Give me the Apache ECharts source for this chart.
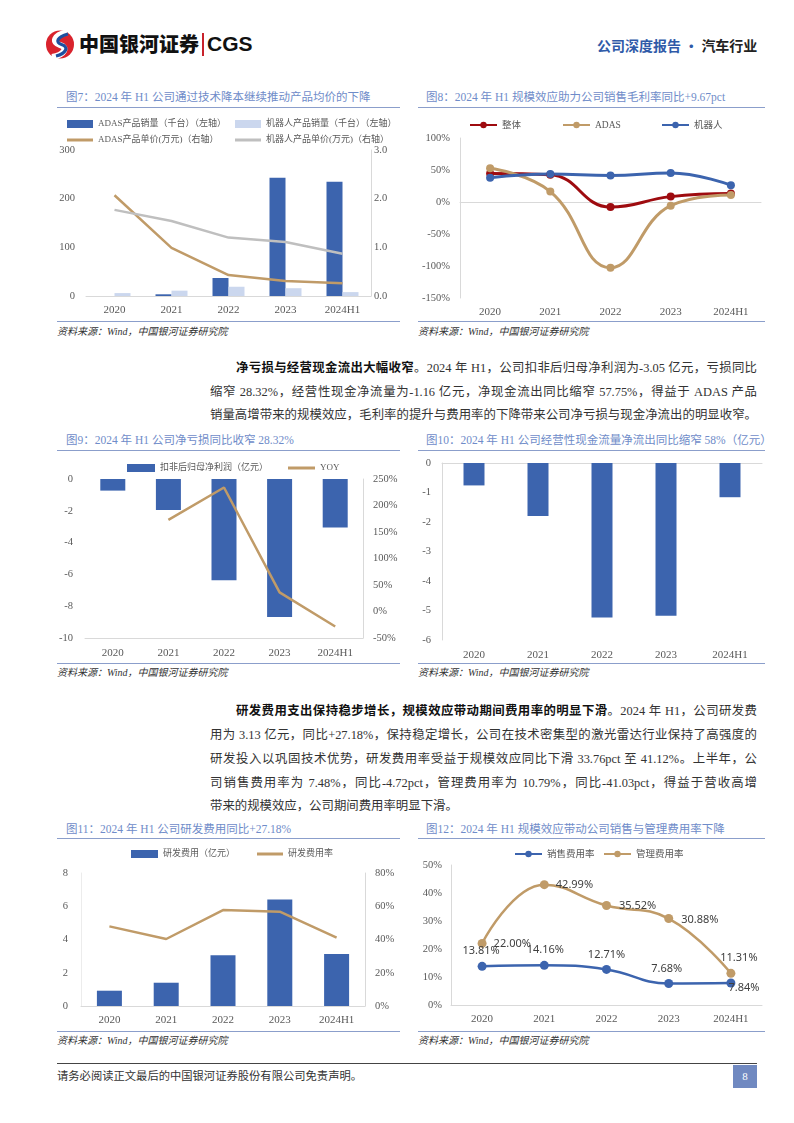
<!DOCTYPE html>
<html><head><meta charset="utf-8">
<script src="https://cdn.jsdelivr.net/npm/echarts@6/dist/echarts.min.js"></script>
<style>
body{margin:0;background:#fff;}
#page{position:relative;width:794px;height:1123px;overflow:hidden;background:#fff;font-family:"Liberation Serif","Noto Sans CJK SC",serif;}
.title{position:absolute;font-size:11.5px;color:#6f8cc9;white-space:nowrap;line-height:14px;height:14px;}
.hl{position:absolute;height:1px;background:#8b9ecb;}
.src{position:absolute;font-size:10px;font-style:italic;color:#333;white-space:nowrap;line-height:12px;}
.tl{position:absolute;font-size:12.4px;line-height:16px;height:16px;color:#333;text-align:justify;text-align-last:justify;white-space:nowrap;}
.b{font-weight:bold;color:#111;}
.chart{position:absolute;}
</style></head><body><div id="page">

<!-- header -->
<svg style="position:absolute;left:44px;top:29px" width="32" height="31" viewBox="0 0 32 31">
  <circle cx="16" cy="15.5" r="14" fill="#d9232d"/>
  <path d="M23 3.5 C 9 6, 8 14, 16 16 C 24 18, 21 26, 8 28" stroke="#fff" stroke-width="6" fill="none"/>
  <path d="M24 5 C 13 8, 11 13.5, 17.5 15.5 C 25.5 18, 22 24.5, 12 27" stroke="#1d4f9f" stroke-width="3.2" fill="none"/>
</svg>
<div style="position:absolute;left:79px;top:30px;font-family:'Noto Sans CJK SC';font-weight:900;font-size:20px;line-height:28px;color:#111;white-space:nowrap;">中国银河证券</div>
<div style="position:absolute;left:202px;top:33px;width:2px;height:23px;background:#c8222b;"></div>
<div style="position:absolute;left:207px;top:30px;font-family:'Liberation Sans';font-weight:bold;font-size:21px;line-height:28px;color:#111;white-space:nowrap;">CGS</div>
<div style="position:absolute;left:597px;top:36px;font-family:'Noto Sans CJK SC';font-weight:bold;font-size:14px;line-height:18px;white-space:nowrap;"><span style="color:#2f5aa8">公司深度报告 ·</span> <span style="color:#222">汽车行业</span></div>

<!-- figure 7/8 titles -->
<div class="title" style="left:66px;top:90px;">图7：2024 年 H1 公司通过技术降本继续推动产品均价的下降</div>
<div class="hl" style="left:57px;top:107px;width:343px;"></div>
<div class="title" style="left:426px;top:90px;">图8：2024 年 H1 规模效应助力公司销售毛利率同比+9.67pct</div>
<div class="hl" style="left:418px;top:107px;width:347px;"></div>
<div id="c7" class="chart" style="left:50px;top:108px;width:355px;height:210px;"></div>
<div id="c8" class="chart" style="left:410px;top:108px;width:360px;height:210px;"></div>
<div class="hl" style="left:57px;top:321px;width:343px;"></div>
<div class="hl" style="left:418px;top:321px;width:347px;"></div>
<div class="src" style="left:57px;top:326px;">资料来源：Wind，中国银河证券研究院</div>
<div class="src" style="left:418px;top:326px;">资料来源：Wind，中国银河证券研究院</div>

<!-- paragraph 1 -->
<div class="tl" style="left:236px;width:521px;top:360px;"><span class="b">净亏损与经营现金流出大幅收窄</span>。2024 年 H1，公司扣非后归母净利润为-3.05 亿元，亏损同比</div>
<div class="tl" style="left:210px;width:547px;top:384px;">缩窄 28.32%，经营性现金净流量为-1.16 亿元，净现金流出同比缩窄 57.75%，得益于 ADAS 产品</div>
<div class="tl" style="left:210px;width:547px;top:407px;">销量高增带来的规模效应，毛利率的提升与费用率的下降带来公司净亏损与现金净流出的明显收窄。</div>

<!-- figure 9/10 -->
<div class="title" style="left:66px;top:433px;">图9：2024 年 H1 公司净亏损同比收窄 28.32%</div>
<div class="hl" style="left:57px;top:450px;width:343px;"></div>
<div class="title" style="left:426px;top:433px;">图10：2024 年 H1 公司经营性现金流量净流出同比缩窄 58%（亿元）</div>
<div class="hl" style="left:418px;top:450px;width:347px;"></div>
<div id="c9" class="chart" style="left:50px;top:452px;width:355px;height:210px;"></div>
<div id="c10" class="chart" style="left:410px;top:452px;width:360px;height:210px;"></div>
<div class="hl" style="left:57px;top:663px;width:343px;"></div>
<div class="hl" style="left:418px;top:663px;width:347px;"></div>
<div class="src" style="left:57px;top:667px;">资料来源：Wind，中国银河证券研究院</div>
<div class="src" style="left:418px;top:667px;">资料来源：Wind，中国银河证券研究院</div>

<!-- paragraph 2 -->
<div class="tl" style="left:236px;width:521px;top:703px;"><span class="b">研发费用支出保持稳步增长，规模效应带动期间费用率的明显下滑</span>。2024 年 H1，公司研发费</div>
<div class="tl" style="left:210px;width:547px;top:727px;">用为 3.13 亿元，同比+27.18%，保持稳定增长，公司在技术密集型的激光雷达行业保持了高强度的</div>
<div class="tl" style="left:210px;width:547px;top:751px;">研发投入以巩固技术优势，研发费用率受益于规模效应同比下滑 33.76pct 至 41.12%。上半年，公</div>
<div class="tl" style="left:210px;width:547px;top:775px;">司销售费用率为 7.48%，同比-4.72pct，管理费用率为 10.79%，同比-41.03pct，得益于营收高增</div>
<div class="tl" style="left:210px;width:547px;top:798px;text-align:left;text-align-last:left;">带来的规模效应，公司期间费用率明显下滑。</div>

<!-- figure 11/12 -->
<div class="title" style="left:66px;top:822px;">图11：2024 年 H1 公司研发费用同比+27.18%</div>
<div class="hl" style="left:57px;top:838px;width:343px;"></div>
<div class="title" style="left:426px;top:822px;">图12：2024 年 H1 规模效应带动公司销售与管理费用率下降</div>
<div class="hl" style="left:418px;top:838px;width:347px;"></div>
<div id="c11" class="chart" style="left:50px;top:840px;width:355px;height:190px;"></div>
<div id="c12" class="chart" style="left:410px;top:840px;width:360px;height:190px;"></div>
<div class="hl" style="left:57px;top:1031px;width:343px;"></div>
<div class="hl" style="left:418px;top:1031px;width:347px;"></div>
<div class="src" style="left:57px;top:1035px;">资料来源：Wind，中国银河证券研究院</div>
<div class="src" style="left:418px;top:1035px;">资料来源：Wind，中国银河证券研究院</div>

<!-- footer -->
<div style="position:absolute;left:57px;top:1063px;width:700px;height:1px;background:#444;"></div>
<div style="position:absolute;left:57px;top:1069px;font-size:11.3px;line-height:14px;color:#333;white-space:nowrap;">请务必阅读正文最后的中国银河证券股份有限公司免责声明。</div>
<div style="position:absolute;left:733px;top:1065px;width:24px;height:23px;background:#7089c1;color:#fff;font-size:11px;line-height:23px;text-align:center;">8</div>

</div>
<script>
// ---------- data ----------
const years = ['2020', '2021', '2022', '2023', '2024H1'];
// Fig 7
const adasSales = [0, 3.5, 37, 243, 235];
const robotSales = [6, 11, 19, 16, 8];
const adasPrice = [2.07, 0.99, 0.43, 0.31, 0.26];
const robotPrice = [1.77, 1.54, 1.20, 1.11, 0.87];
// Fig 8
const gmTotal = [44.7, 42.6, -7.9, 8.4, 13.2];
const gmAdas = [52.6, 16.3, -102.6, -5.8, 11.0];
const gmRobot = [37.9, 43.7, 41.6, 45.3, 26.3];
// Fig 9
const netProfit = [-0.73, -1.95, -6.37, -8.68, -3.05];
const netProfitYoy = [null, 173, 234, 36, -28.32];
// Fig 10
const opCashFlow = [-0.76, -1.80, -5.24, -5.18, -1.16];
// Fig 11
const rdExpense = [0.92, 1.40, 3.05, 6.41, 3.13];
const rdRate = [47.9, 40.3, 57.7, 56.7, 41.12];
// Fig 12
const salesRate = [13.81, 14.16, 12.71, 7.68, 7.84];
const mgmtRate = [22.00, 42.99, 35.52, 30.88, 11.31];

// ---------- styles ----------
const FONT = 'Liberation Serif, Noto Sans CJK SC, serif';
const BLUE = '#3c64ae', LIGHTBLUE = '#cbd7ee', TAN = '#c09b68', GRAY = '#bfbfbf', RED = '#9e0b0f';
const LC = '#d9d9d9';
const axLab = (extra) => Object.assign({color: '#595959', fontSize: 10.5, fontFamily: FONT}, extra || {});
const xLab = (m) => axLab({fontSize: 11, margin: m});

function leg(name, x, yc, icon, w, h, fs) {
  const o = {data: [name], left: x, top: yc - 7, padding: 0, itemWidth: w, itemHeight: h,
    itemGap: 0, selectedMode: false,
    textStyle: {fontSize: fs || 9, color: '#595959', fontFamily: FONT, lineHeight: 14}};
  if (icon) o.icon = icon;
  return o;
}
function mk(id, opt) {
  const c = echarts.init(document.getElementById(id), null, {renderer: 'canvas'});
  opt.animation = false;
  c.setOption(opt);
}

// ---------- Fig 7 ----------
mk('c7', {
  grid: {left: 36, top: 42, width: 285, height: 146},
  legend: [
    leg('ADAS产品销量（千台）（左轴）', 17, 16, 'rect', 26, 8),
    leg('机器人产品销量（千台）（左轴）', 185, 16, 'rect', 26, 8),
    leg('ADAS产品单价(万元)（右轴）', 17, 32, 'rect', 26, 3),
    leg('机器人产品单价(万元)（右轴）', 185, 32, 'rect', 26, 3)
  ],
  xAxis: {type: 'category', data: years, axisLine: {lineStyle: {color: LC}}, axisTick: {show: false}, axisLabel: xLab(9)},
  yAxis: [
    {type: 'value', min: 0, max: 300, interval: 100, splitLine: {show: false}, axisLine: {show: false}, axisTick: {show: false}, axisLabel: axLab({margin: 11})},
    {type: 'value', min: 0, max: 3, interval: 1, position: 'right', splitLine: {show: false}, axisLine: {show: true, lineStyle: {color: LC}}, axisTick: {show: false},
     axisLabel: axLab({margin: 3, formatter: v => v.toFixed(1)})}
  ],
  series: [
    {name: 'ADAS产品销量（千台）（左轴）', type: 'bar', data: adasSales, barWidth: 16, barGap: '0%', itemStyle: {color: BLUE}},
    {name: '机器人产品销量（千台）（左轴）', type: 'bar', data: robotSales, barWidth: 16, barGap: '0%', itemStyle: {color: LIGHTBLUE}},
    {name: 'ADAS产品单价(万元)（右轴）', type: 'line', yAxisIndex: 1, data: adasPrice, symbol: 'none', lineStyle: {color: TAN, width: 2.5}, itemStyle: {color: TAN}},
    {name: '机器人产品单价(万元)（右轴）', type: 'line', yAxisIndex: 1, data: robotPrice, symbol: 'none', lineStyle: {color: GRAY, width: 2.5}, itemStyle: {color: GRAY}}
  ]
});

// ---------- Fig 8 ----------
const l8 = (name, data, color) => ({name, type: 'line', data, smooth: 0.45, symbol: 'circle', symbolSize: 8,
  lineStyle: {color, width: 3}, itemStyle: {color}});
mk('c8', {
  grid: {left: 50, top: 30, width: 301, height: 161},
  legend: [
    leg('整体', 59, 17, null, 27, 8, 9.5),
    leg('ADAS', 152, 17, null, 27, 8, 9.5),
    leg('机器人', 251, 17, null, 27, 8, 9.5)
  ],
  xAxis: {type: 'category', data: years, axisLine: {onZero: true, lineStyle: {color: LC}}, axisTick: {show: false}, axisLabel: xLab(9)},
  yAxis: {type: 'value', min: -150, max: 100, interval: 50, splitLine: {show: false}, axisLine: {show: true, lineStyle: {color: LC}}, axisTick: {show: false},
    axisLabel: axLab({margin: 10, formatter: '{value}%'})},
  series: [l8('整体', gmTotal, RED), l8('ADAS', gmAdas, TAN), l8('机器人', gmRobot, BLUE)]
});

// ---------- Fig 9 ----------
mk('c9', {
  grid: {left: 35, top: 27, width: 278, height: 159},
  legend: [
    leg('扣非后归母净利润（亿元）', 77, 16, 'rect', 28, 8),
    leg('YOY', 238, 16, 'rect', 27, 3)
  ],
  xAxis: {type: 'category', data: years, axisLine: {onZero: false, lineStyle: {color: LC}}, axisTick: {show: false}, axisLabel: xLab(10)},
  yAxis: [
    {type: 'value', min: -10, max: 0, interval: 2, splitLine: {show: false}, axisLine: {show: false}, axisTick: {show: false}, axisLabel: axLab({margin: 12})},
    {type: 'value', min: -50, max: 250, interval: 50, position: 'right', splitLine: {show: false}, axisLine: {show: true, lineStyle: {color: LC}}, axisTick: {show: false},
     axisLabel: axLab({margin: 10, formatter: '{value}%'})}
  ],
  series: [
    {name: '扣非后归母净利润（亿元）', type: 'bar', data: netProfit, barWidth: 25, itemStyle: {color: BLUE}},
    {name: 'YOY', type: 'line', yAxisIndex: 1, data: netProfitYoy, symbol: 'none', lineStyle: {color: TAN, width: 2.5}, itemStyle: {color: TAN}}
  ]
});

// ---------- Fig 10 ----------
mk('c10', {
  grid: {left: 32, top: 11, width: 320, height: 177},
  xAxis: [
    {type: 'category', data: years, position: 'bottom', axisLine: {show: false, onZero: false}, axisTick: {show: false}, axisLabel: xLab(10)},
    {type: 'category', data: years, position: 'top', axisLine: {show: true, onZero: false, lineStyle: {color: LC}}, axisTick: {show: false}, axisLabel: {show: false}}
  ],
  yAxis: {type: 'value', min: -6, max: 0, interval: 1, splitLine: {show: false}, axisLine: {show: true, lineStyle: {color: LC}}, axisTick: {show: false}, axisLabel: axLab({margin: 11})},
  series: [{type: 'bar', data: opCashFlow, barWidth: 21, itemStyle: {color: BLUE}}]
});

// ---------- Fig 11 ----------
mk('c11', {
  grid: {left: 31, top: 33, width: 284, height: 133},
  legend: [
    leg('研发费用（亿元）', 81, 14, 'rect', 27, 8),
    leg('研发费用率', 207, 14, 'rect', 26, 3)
  ],
  xAxis: {type: 'category', data: years, axisLine: {lineStyle: {color: LC}}, axisTick: {show: false}, axisLabel: xLab(9)},
  yAxis: [
    {type: 'value', min: 0, max: 8, interval: 2, splitLine: {show: false}, axisLine: {show: true, lineStyle: {color: '#ececec'}}, axisTick: {show: false}, axisLabel: axLab({margin: 13})},
    {type: 'value', min: 0, max: 80, interval: 20, position: 'right', splitLine: {show: false}, axisLine: {show: true, lineStyle: {color: LC}}, axisTick: {show: false},
     axisLabel: axLab({margin: 10, formatter: '{value}%'})}
  ],
  series: [
    {name: '研发费用（亿元）', type: 'bar', data: rdExpense, barWidth: 25, itemStyle: {color: BLUE}},
    {name: '研发费用率', type: 'line', yAxisIndex: 1, data: rdRate, symbol: 'none', lineStyle: {color: TAN, width: 2.5}, itemStyle: {color: TAN}}
  ]
});

// ---------- Fig 12 ----------
const lblStyle = {show: true, fontFamily: 'Noto Sans', fontSize: 11, color: '#404040', formatter: p => p.value.toFixed(2) + '%'};
const salesPos = ['top', 'top', 'top', 'top', 'bottom'];
const salesOff = [[-1, 0], [1, 0], [0, 0], [-2, 0], [13, -10]];
const mgmtPos = ['right', 'right', 'right', 'right', 'top'];
const mgmtOff = [[2, 0], [2, 0], [3, 0], [3, 1], [8, 0]];
mk('c12', {
  grid: {left: 41, top: 25, width: 311, height: 140},
  legend: [
    leg('销售费用率', 104, 14, null, 27, 8, 9.5),
    leg('管理费用率', 193, 14, null, 27, 8, 9.5)
  ],
  xAxis: {type: 'category', data: years, axisLine: {lineStyle: {color: LC}}, axisTick: {show: false}, axisLabel: xLab(9)},
  yAxis: {type: 'value', min: 0, max: 50, interval: 10, splitLine: {show: false}, axisLine: {show: true, lineStyle: {color: LC}}, axisTick: {show: false},
    axisLabel: axLab({margin: 9, formatter: '{value}%'})},
  series: [
    {name: '销售费用率', type: 'line', smooth: 0.45, symbol: 'circle', symbolSize: 9, lineStyle: {color: BLUE, width: 2.5}, itemStyle: {color: BLUE},
     data: salesRate.map((v, i) => ({value: v, label: Object.assign({}, lblStyle, {position: salesPos[i], offset: salesOff[i]})}))},
    {name: '管理费用率', type: 'line', smooth: 0.45, symbol: 'circle', symbolSize: 9, lineStyle: {color: TAN, width: 2.5}, itemStyle: {color: TAN},
     data: mgmtRate.map((v, i) => ({value: v, label: Object.assign({}, lblStyle, {position: mgmtPos[i], offset: mgmtOff[i]})}))}
  ]
});
</script>
</body></html>
